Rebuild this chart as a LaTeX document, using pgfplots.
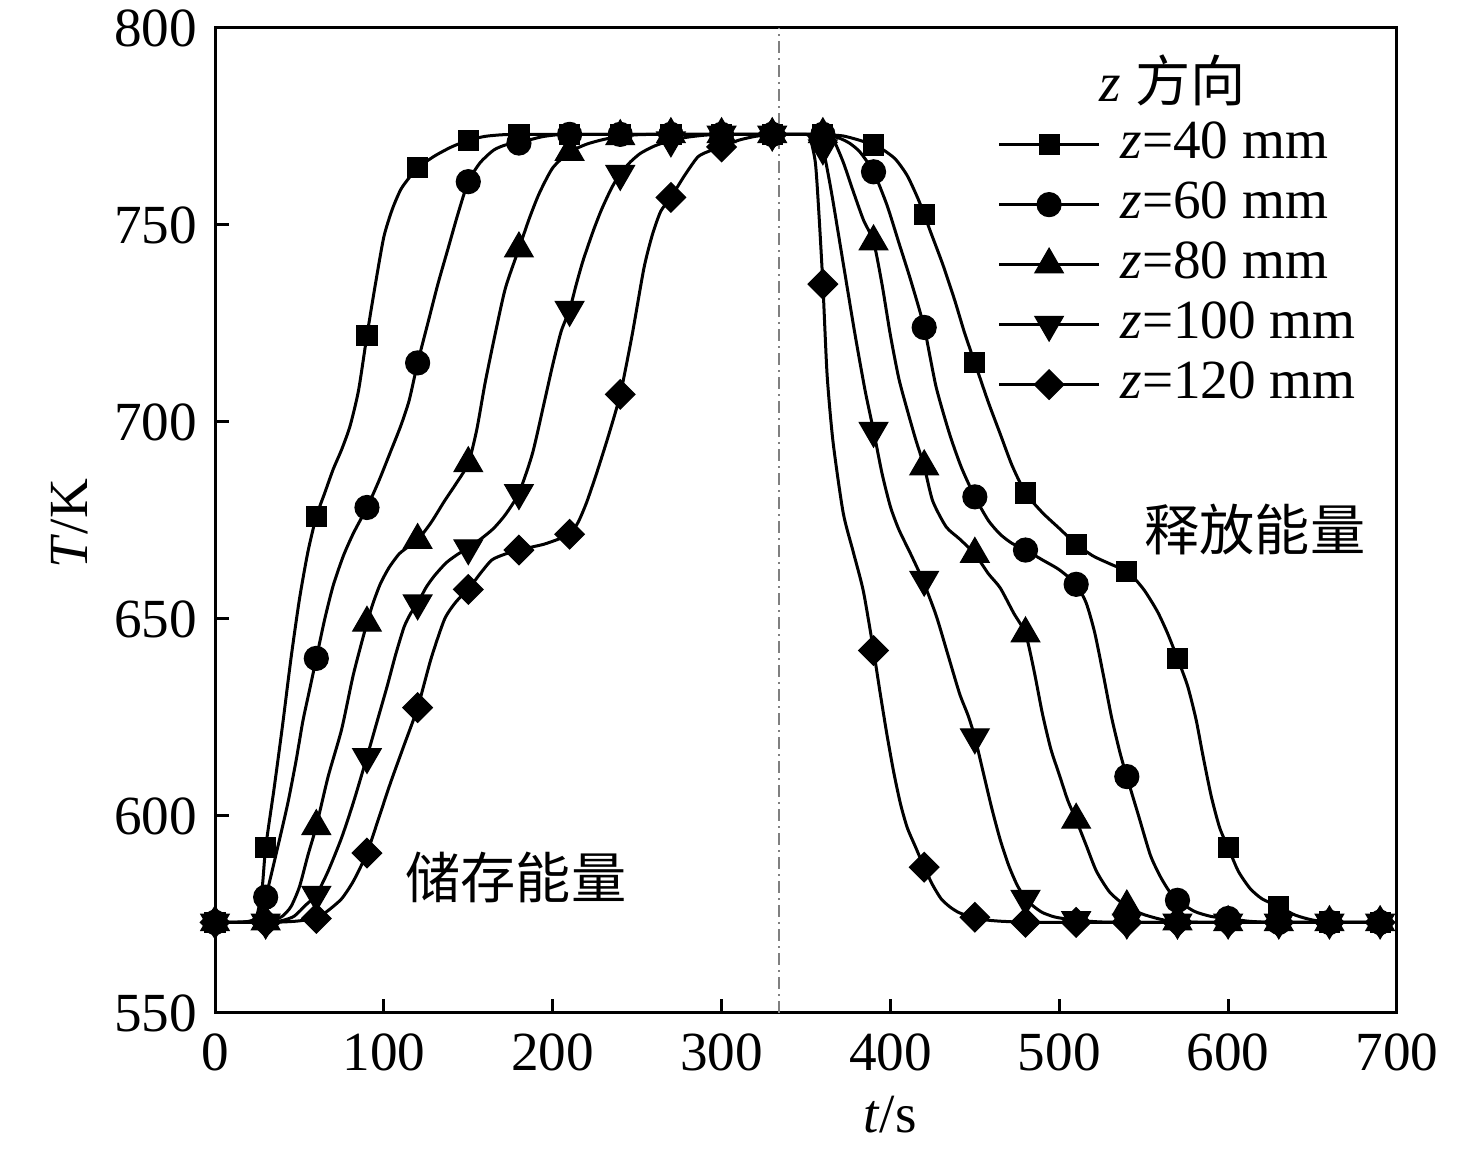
\documentclass[border=0pt]{standalone}
\usepackage{fontspec}
\setmainfont{Liberation Serif}
\newfontfamily\cjk{Noto Sans CJK SC}
\usepackage{pgfplots}
\pgfplotsset{compat=1.18}
\newcommand\fs{\fontsize{13.8pt}{16pt}\selectfont}

\pgfplotstableread{
x y
0 573
10 573
17 573.1
22 573.5
25 575
28 582
30 592
35 607
40 623
45 640
50 655
55 667
60 676
65 682
70 688
75 693
80 699
85 708
90 722
95 735
100 747
105 754
110 759
115 762
120 764.5
130 767.5
140 769.8
150 771.5
160 772.5
170 772.9
180 773
195 773
210 773
225 773
240 773
255 773
270 773
285 773
300 773
315 773
330 773
345 773
355 773
363 772.9
372 772.6
381 771.6
390 770.3
396 769
403 766.7
410 762.5
417 756
424 748
431 740
438 731
444 722.5
450 715
458 705
465 697
472 689
480 682
490 677
500 673
510 669
520 666
530 664
541 661.8
550 657.5
558 652
564 646.5
570 640
576 633
581 624.5
585 615.5
590 605
595 597
600 592
606 586
613 581.6
620 579
630 577
640 574.8
650 573.6
660 573.1
675 573
690 573
}\lineA
\pgfplotstableread{
x y
0 573
10 573
17 573.1
22 573.4
26 575
30 579.4
36 590
43 603
48 614
52 624
56 632
60 640
65 650
70 658.5
76 666
82 671.8
90 678.3
97 685
104 692.5
110 699
115 705.5
120 715
126 725
132 735
138 744
144 753
150 761
157 765.8
165 769
172 770.3
180 770.8
188 771.8
195 772.5
205 773
215 773
225 773
240 773
255 773
270 773
285 773
300 773
315 773
330 773
345 773
355 773
362 772.8
370 772
376 770.7
382 768.5
390 763.5
398 755
405 745.5
412 736
420 724
427 709
435 697
442 688.5
450 681
458 675
465 671.5
472 669.2
480 667.5
490 665
500 662.5
510 658.8
516 654
521 646.5
526 636
531 625
536 616
540 610
547 600
554 590
560 584.5
565 581
570 578.6
580 575.8
590 574.5
600 574
612 573.3
625 573
640 573
660 573
675 573
690 573
}\lineB
\pgfplotstableread{
x y
0 573
15 573
24 573
30 573.2
35 573.6
40 574.6
45 577
50 582
55 590
60 597.4
67 610
75 622
82 636
90 649
94 654.5
98 659
103 663
109 666.5
115 668.5
120 670
128 674.5
136 680
143 684.5
150 689.5
155 698
160 710
166 722.5
172 734
180 744
186 751.5
192 758
200 764.5
210 768.5
220 770.5
230 771.7
240 772.5
250 772.9
260 773
270 773
285 773
300 773
315 773
330 773
345 773
355 773
361 772.8
366 771.8
372 766
378 758.5
384 751.3
390 745.8
395 735
400 722
405 711
410 703
415 695.5
420 688.7
425 680
433 673.4
441 670.3
450 666.5
458 661.5
465 657.9
473 651.5
480 646.3
485 637
490 626
495 617
500 610.5
505 604
510 599
516 592.5
522 586
530 580.6
540 577
550 575
562 573.6
575 573.1
590 573
605 573
620 573
640 573
660 573
675 573
690 573
}\lineC
\pgfplotstableread{
x y
0 573
15 573
30 573
36 573.2
41 573.6
47 574.6
54 577.5
60 580
67 586
75 594.5
82 603.5
90 615
96 624
102 633
107 641
112 648
116 651.5
120 654
125 658
130 661
137 664.3
144 666.5
150 668
158 670.5
165 673
172 676.5
180 682
188 692
195 705
200 714.5
205 723
210 728.5
214 735
218 741
224 748.5
229 754
235 759.5
240 763
246 766
252 768.2
260 770
270 771.5
280 772.3
290 772.8
300 773
315 773
330 773
343 773
352 773
356 772.6
360 769.5
365 758.5
372 740.4
379 722.3
385 708
390 697.8
395 687
400 678.5
405 672.7
412 666.5
419 660
427 651
434 641
441 631
446 625.5
450 620
455 611
460 602
465 594
470 587.5
475 582.5
480 579
485 577
490 575.5
497 574.4
505 573.8
514 573.4
525 573.1
540 573
555 573
570 573
585 573
600 573
615 573
630 573
645 573
660 573
675 573
690 573
}\lineD
\pgfplotstableread{
x y
0 573
15 573
30 573
40 573.1
48 573.3
54 573.6
60 574
67 576
75 579
82 583.5
90 590.6
97 599.5
104 608.5
112 618
120 627.5
128 640
136 650
143 654.5
150 657.5
157 661.5
164 665
172 666.5
180 667.5
188 668.3
195 669
203 670.2
210 671.5
215 674.5
220 679.5
226 687
233 696.5
240 707
247 722
254 739
259 747.5
264 753.5
270 757
278 762.5
286 767.3
293 768.8
300 769.8
310 771.5
320 772.5
330 773
340 773
347 773
352 772.5
355.5 766
357.5 754
360 735
362.5 712
366 695
372 677
378 667
384 657
390 642
394 631
398 620.5
402 611
406 603
410 597
415 592
420 587
425 582.5
430 579
435 577
440 575.6
445 574.8
450 574.3
457 573.6
465 573.3
475 573.1
485 573
500 573
515 573
530 573
545 573
560 573
575 573
590 573
605 573
620 573
635 573
650 573
665 573
680 573
690 573
}\lineE

\pgfplotstableread{
x y
0 573
30 592
60 676
90 722
120 764.5
150 771.5
180 773
210 773
240 773
270 773
300 773
330 773
360 773
390 770.3
420 752.6
450 715
480 682
510 669
540 662
570 640
600 592
630 577
660 573.1
690 573
}\markA
\pgfplotstableread{
x y
0 573
30 579.4
60 640
90 678.3
120 715
150 761
180 770.8
210 773
240 773
270 773
300 773
330 773
360 773
390 763.5
420 724
450 681
480 667.5
510 658.8
540 610
570 578.6
600 574
630 573
660 573
690 573
}\markB
\pgfplotstableread{
x y
0 573
30 573.2
60 597.4
90 649
120 670
150 689.5
180 744
210 768.5
240 772.5
270 773
300 773
330 773
360 773
390 745.8
420 688.7
450 666.5
480 646.3
510 599
540 577
570 573.2
600 573
630 573
660 573
690 573
}\markC
\pgfplotstableread{
x y
0 573
30 573
60 580
90 615
120 654
150 668
180 682
210 728.5
240 763
270 771.5
300 773
330 773
360 769.5
390 697.8
420 660
450 620
480 579
510 573.6
540 573
570 573
600 573
630 573
660 573
690 573
}\markD
\pgfplotstableread{
x y
0 573
30 573
60 574
90 590.6
120 627.5
150 657.5
180 667.5
210 671.5
240 707
270 757
300 769.8
330 773
360 735
390 642
420 587
450 574.3
480 573
510 573
540 573
570 573
600 573
630 573
660 573
690 573
}\markE

\begin{document}
\begin{tikzpicture}
\begin{axis}[
  scale only axis,
  width=295.5pt, height=246.25pt,
  xmin=0, xmax=700, ymin=550, ymax=800,
  xtick={0,100,...,700}, ytick={550,600,...,800},
  tick align=inside, tick pos=left,
  major tick length=3.5pt,
  axis line style={line width=0.75pt, black},
  every tick/.style={line width=0.75pt, black},
  /pgf/number format/assume math mode=true,
  ticklabel style={font=\fs},
  xticklabel style={yshift=-1.6pt},
  yticklabel style={xshift=-1pt},
  xlabel={\textit{t}/s},
  ylabel={\textit{T}/K},
  label style={font=\fs},
  xlabel style={at={(axis description cs:0.571,0)}, anchor=base, yshift=-30pt},
  ylabel style={at={(axis description cs:-0.1227,0.497)}, anchor=center, rotate=0},
  legend style={draw=none, fill=none, at={(axis cs:463,777.2)}, anchor=north west,
    inner sep=0pt, row sep=0pt, font=\fs,
    nodes={inner sep=0pt, text height=10pt, text depth=5pt},
    /tikz/every odd column/.append style={column sep=5pt}},
  legend cell align=left,
  legend image code/.code={
    \draw[solid, line width=0.75pt, black] (0pt,1pt) -- (25pt,1pt);
    \draw[solid] plot coordinates {(12.5pt,1pt)};
  },
]
\addplot[gray, line width=0.45pt, dash pattern=on 3pt off 1.2pt on 0.6pt off 1.2pt, forget plot] coordinates {(334,550) (334,800)};

\addplot[black, line width=0.75pt, smooth, tension=0.4, forget plot] table {\lineA};
\addplot[only marks, mark=square*, mark size=2.5pt, mark options={solid, fill=black, draw=black, line width=0.3pt}] table {\markA};
\addlegendentry{\textit{z}=40 mm}
\addplot[black, line width=0.75pt, smooth, tension=0.4, forget plot] table {\lineB};
\addplot[only marks, mark=*, mark size=3pt, mark options={solid, fill=black, draw=black, line width=0.3pt}] table {\markB};
\addlegendentry{\textit{z}=60 mm}
\addplot[black, line width=0.75pt, smooth, tension=0.4, forget plot] table {\lineC};
\addplot[only marks, mark=triangle*, mark size=4.1pt, mark options={solid, fill=black, draw=black, line width=0.3pt}] table {\markC};
\addlegendentry{\textit{z}=80 mm}
\addplot[black, line width=0.75pt, smooth, tension=0.4, forget plot] table {\lineD};
\addplot[only marks, mark=triangle*, mark size=4.1pt, mark options={solid, fill=black, draw=black, line width=0.3pt, rotate=180}] table {\markD};
\addlegendentry{\textit{z}=100 mm}
\addplot[black, line width=0.75pt, smooth, tension=0.4, forget plot] table {\lineE};
\addplot[only marks, mark=square*, mark size=2.6pt, mark options={solid, fill=black, draw=black, line width=0.3pt, rotate=45}] table {\markE};
\addlegendentry{\textit{z}=120 mm}

\node[font=\fs] at (axis cs:567.2,786.8) {\textit{z} {\cjk 方向}};
\node[font=\fs\cjk] at (axis cs:178.2,584.5) {储存能量};
\node[font=\fs\cjk] at (axis cs:615.8,672.8) {释放能量};
\end{axis}
\pgfresetboundingbox
\path ([xshift=-53.75pt,yshift=-35.25pt]current axis.south west) rectangle ([xshift=19.75pt,yshift=7pt]current axis.north east);
\end{tikzpicture}
\end{document}
